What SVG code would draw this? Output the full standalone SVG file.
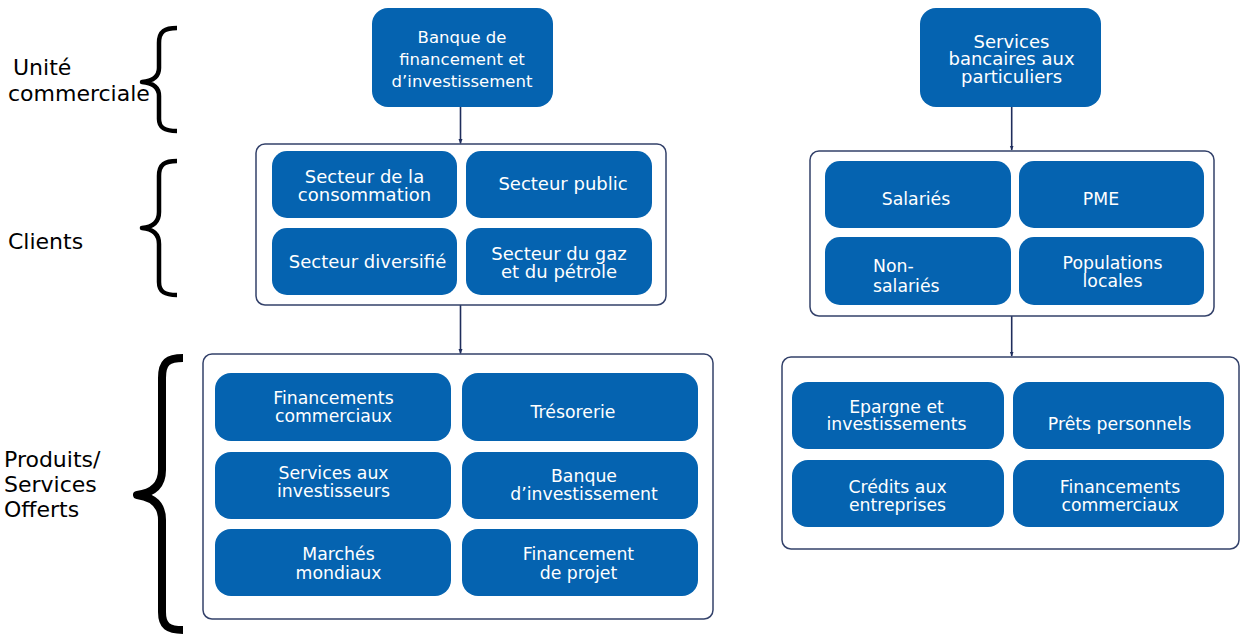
<svg xmlns="http://www.w3.org/2000/svg" width="1247" height="635" viewBox="0 0 1247 635">
<style>
.node{fill:#0563B0;}
.cont{fill:#ffffff;stroke:#33416A;stroke-width:1.5;}
.t{fill:#ffffff;font-family:"DejaVu Sans",Verdana,sans-serif;text-anchor:middle;font-size:17.3px;}
.t18{font-size:18px;}
.t16{font-size:16.5px;}
.lab{fill:#000000;font-family:"DejaVu Sans",Verdana,sans-serif;font-size:22px;}
.brace{fill:none;stroke:#000000;stroke-linejoin:round;}
.conn{stroke:#1F2D5C;stroke-width:1.6;fill:none;marker-end:url(#ah);}
</style>
<defs>
<marker id="ah" viewBox="0 0 10 10" refX="9" refY="5" markerWidth="5" markerHeight="5" orient="auto" markerUnits="userSpaceOnUse">
<path d="M0,1 L10,5 L0,9 z" fill="#1F2D5C"/>
</marker>
</defs>
<rect width="1247" height="635" fill="#ffffff"/>

<g id="labels">
<text class="lab" x="13" y="75">Unité</text>
<text class="lab" x="8" y="101">commerciale</text>
<text class="lab" x="8" y="249">Clients</text>
<text class="lab" x="4" y="467">Produits/</text>
<text class="lab" x="4" y="492">Services</text>
<text class="lab" x="4" y="517">Offerts</text>
</g>

<g id="braces">
<path class="brace" stroke-width="4.5" d="M177,28 C165,28 159,31 159,43 L159,68 C159,77 153,81 142,82 C153,83 159,87 159,96 L159,119 C159,128 165,131 177,131"/>
<path class="brace" stroke-width="4.5" d="M177,161 C165,161 159,164 159,176 L159,212 C159,222 153,227 142,228 C153,229 159,234 159,244 L159,282 C159,292 165,295 177,295"/>
<path class="brace" stroke-width="8" d="M183,358 C168,358 162,362 162,378 L162,470 C162,485 153,493 137,495 C153,497 162,505 162,520 L162,612 C162,626 168,630 183,630"/>
</g>

<g id="connectors">
<line class="conn" x1="460.5" y1="107" x2="460.5" y2="143.5"/>
<line class="conn" x1="460.5" y1="305" x2="460.5" y2="353.5"/>
<line class="conn" x1="1011.7" y1="107" x2="1011.7" y2="150"/>
<line class="conn" x1="1011.7" y1="316" x2="1011.7" y2="356"/>
</g>

<g id="bfi">
<rect class="node" x="372" y="8" width="181" height="99" rx="16"/>
<text class="t t16" x="462" y="43">Banque de</text>
<text class="t t16" x="462" y="65">financement et</text>
<text class="t t16" x="462" y="87">d’investissement</text>
</g>

<g id="clients-left">
<rect class="cont" x="256" y="144" width="410" height="161" rx="9"/>
</g>
<g id="secteur-conso">
<rect class="node" x="272" y="151" width="185" height="67" rx="15"/>
<text class="t t18" x="364.5" y="183">Secteur de la</text>
<text class="t t18" x="364.5" y="200.5">consommation</text>
</g>
<g id="secteur-public">
<rect class="node" x="466" y="151" width="186" height="67" rx="15"/>
<text class="t t18" x="563" y="190">Secteur public</text>
</g>
<g id="secteur-diversifie">
<rect class="node" x="272" y="228" width="185" height="67" rx="15"/>
<text class="t t18" x="367.5" y="268">Secteur diversifié</text>
</g>
<g id="secteur-gaz">
<rect class="node" x="466" y="228" width="186" height="67" rx="15"/>
<text class="t t18" x="559" y="259.5">Secteur du gaz</text>
<text class="t t18" x="559" y="277.5">et du pétrole</text>
</g>

<g id="produits-left">
<rect class="cont" x="203" y="354" width="510" height="265" rx="9"/>
</g>
<g id="financements-commerciaux-1">
<rect class="node" x="215" y="373" width="236" height="68" rx="16"/>
<text class="t" x="333.5" y="404">Financements</text>
<text class="t" x="333.5" y="422">commerciaux</text>
</g>
<g id="tresorerie">
<rect class="node" x="462" y="373" width="236" height="68" rx="16"/>
<text class="t" x="573" y="418">Trésorerie</text>
</g>
<g id="services-investisseurs">
<rect class="node" x="215" y="452" width="236" height="67" rx="16"/>
<text class="t" x="333.5" y="478.5">Services aux</text>
<text class="t" x="333.5" y="496.5">investisseurs</text>
</g>
<g id="banque-investissement">
<rect class="node" x="462" y="452" width="236" height="67" rx="16"/>
<text class="t" x="584" y="481.5">Banque</text>
<text class="t" x="584" y="499.5">d’investissement</text>
</g>
<g id="marches-mondiaux">
<rect class="node" x="215" y="529" width="236" height="67" rx="16"/>
<text class="t" x="338.5" y="559.5">Marchés</text>
<text class="t" x="338.5" y="578.5">mondiaux</text>
</g>
<g id="financement-projet">
<rect class="node" x="462" y="529" width="236" height="67" rx="16"/>
<text class="t" x="578.5" y="559.5">Financement</text>
<text class="t" x="578.5" y="578.5">de projet</text>
</g>

<g id="sbp">
<rect class="node" x="920" y="8" width="181" height="99" rx="16"/>
<text class="t t18" x="1011.5" y="47.5">Services</text>
<text class="t t18" x="1011.5" y="65">bancaires aux</text>
<text class="t t18" x="1011.5" y="83">particuliers</text>
</g>

<g id="clients-right">
<rect class="cont" x="810" y="151" width="404" height="165" rx="9"/>
</g>
<g id="salaries">
<rect class="node" x="825" y="161" width="186" height="67" rx="15"/>
<text class="t" x="916" y="205">Salariés</text>
</g>
<g id="pme">
<rect class="node" x="1019" y="161" width="185" height="67" rx="15"/>
<text class="t" x="1101" y="205">PME</text>
</g>
<g id="non-salaries">
<rect class="node" x="825" y="237" width="186" height="68" rx="15"/>
<text class="t" x="873" y="271.5" style="text-anchor:start">Non-</text>
<text class="t" x="873" y="291.5" style="text-anchor:start">salariés</text>
</g>
<g id="populations-locales">
<rect class="node" x="1019" y="237" width="185" height="68" rx="15"/>
<text class="t" x="1112.5" y="268.5">Populations</text>
<text class="t" x="1112.5" y="286.5">locales</text>
</g>

<g id="produits-right">
<rect class="cont" x="782" y="357" width="457" height="192" rx="9"/>
</g>
<g id="epargne">
<rect class="node" x="792" y="382" width="212" height="67" rx="16"/>
<text class="t" x="896.5" y="412.5">Epargne et</text>
<text class="t" x="896.5" y="430">investissements</text>
</g>
<g id="prets">
<rect class="node" x="1013" y="382" width="211" height="67" rx="16"/>
<text class="t" x="1119.5" y="430">Prêts personnels</text>
</g>
<g id="credits">
<rect class="node" x="792" y="460" width="212" height="67" rx="16"/>
<text class="t" x="897.5" y="492.5">Crédits aux</text>
<text class="t" x="897.5" y="510.5">entreprises</text>
</g>
<g id="financements-commerciaux-2">
<rect class="node" x="1013" y="460" width="211" height="67" rx="16"/>
<text class="t" x="1120" y="492.5">Financements</text>
<text class="t" x="1120" y="510.5">commerciaux</text>
</g>
</svg>
